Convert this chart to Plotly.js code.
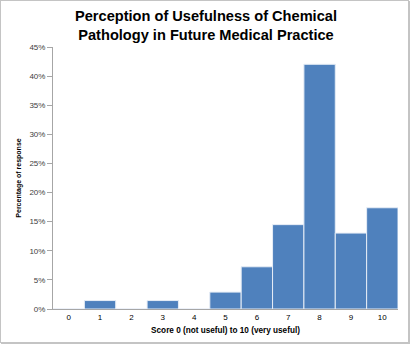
<!DOCTYPE html>
<html>
<head>
<meta charset="utf-8">
<script src="https://cdn.plot.ly/plotly-3.0.1.min.js"></script>
<style>
  html, body { margin: 0; padding: 0; background: #ffffff; }
  #frame {
    position: absolute; left: 0; top: 0;
    width: 409px; height: 343px;
    border: 1px solid #c4c4c4;
    box-shadow: 1px 1px 0 #c4c4c4;
    box-sizing: border-box;
  }
  #chart { position: absolute; left: 0; top: 0; width: 412px; height: 346px; }
</style>
</head>
<body>
<div id="chart"></div>
<div id="frame"></div>
<script>
// Score categories and share of responses for each score
const scores = [0, 1, 2, 3, 4, 5, 6, 7, 8, 9, 10];
const scoreLabels = ['0', '1', '2', '3', '4', '5', '6', '7', '8', '9', '10'];
const responseShare = [0, 0.0145, 0, 0.0145, 0, 0.029, 0.0725, 0.1449, 0.4203, 0.1304, 0.1739];
const shareTicks = [0, 0.05, 0.10, 0.15, 0.20, 0.25, 0.30, 0.35, 0.40, 0.45];

const trace = {
  type: 'bar',
  x: scores,
  y: responseShare,
  width: 1,
  marker: { color: '#4f81bd', line: { color: '#e6edf6', width: 1 } },
  hoverinfo: 'x+y'
};

const layout = {
  width: 412,
  height: 346,
  margin: { l: 53, r: 14, t: 47, b: 37 },
  paper_bgcolor: '#ffffff',
  plot_bgcolor: '#ffffff',
  bargap: 0,
  showlegend: false,
  title: {
    text: 'Perception of Usefulness of Chemical<br>Pathology in Future Medical Practice',
    font: { family: 'Liberation Sans, Arial, sans-serif', size: 14.6, color: '#000000', weight: 'bold' },
    x: 0.5, xanchor: 'center',
    y: 0.94, yanchor: 'top', yref: 'container'
  },
  xaxis: {
    range: [-0.5, 10.5],
    tickvals: scores,
    ticktext: scoreLabels,
    ticks: '',
    showgrid: false,
    zeroline: false,
    showline: true,
    linecolor: '#a6a6a6',
    linewidth: 1,
    tickfont: { family: 'Liberation Sans, Arial, sans-serif', size: 8, color: '#000000' },
    title: {
      text: 'Score 0 (not useful) to 10 (very useful)',
      font: { family: 'Liberation Sans, Arial, sans-serif', size: 8.2, color: '#000000', weight: 'bold' },
      standoff: 6
    },
    fixedrange: true
  },
  yaxis: {
    range: [0, 0.45],
    tickvals: shareTicks,
    tickformat: '.0%',
    ticks: 'outside',
    ticklen: 5,
    tickcolor: '#a6a6a6',
    showgrid: false,
    zeroline: false,
    showline: true,
    linecolor: '#a6a6a6',
    linewidth: 1,
    tickfont: { family: 'Liberation Sans, Arial, sans-serif', size: 8, color: '#404040' },
    title: {
      text: 'Percentage of response',
      font: { family: 'Liberation Sans, Arial, sans-serif', size: 7, color: '#000000', weight: 'bold' },
      standoff: 6
    },
    fixedrange: true
  }
};

Plotly.newPlot('chart', [trace], layout, { displayModeBar: false, staticPlot: true });
</script>
</body>
</html>
